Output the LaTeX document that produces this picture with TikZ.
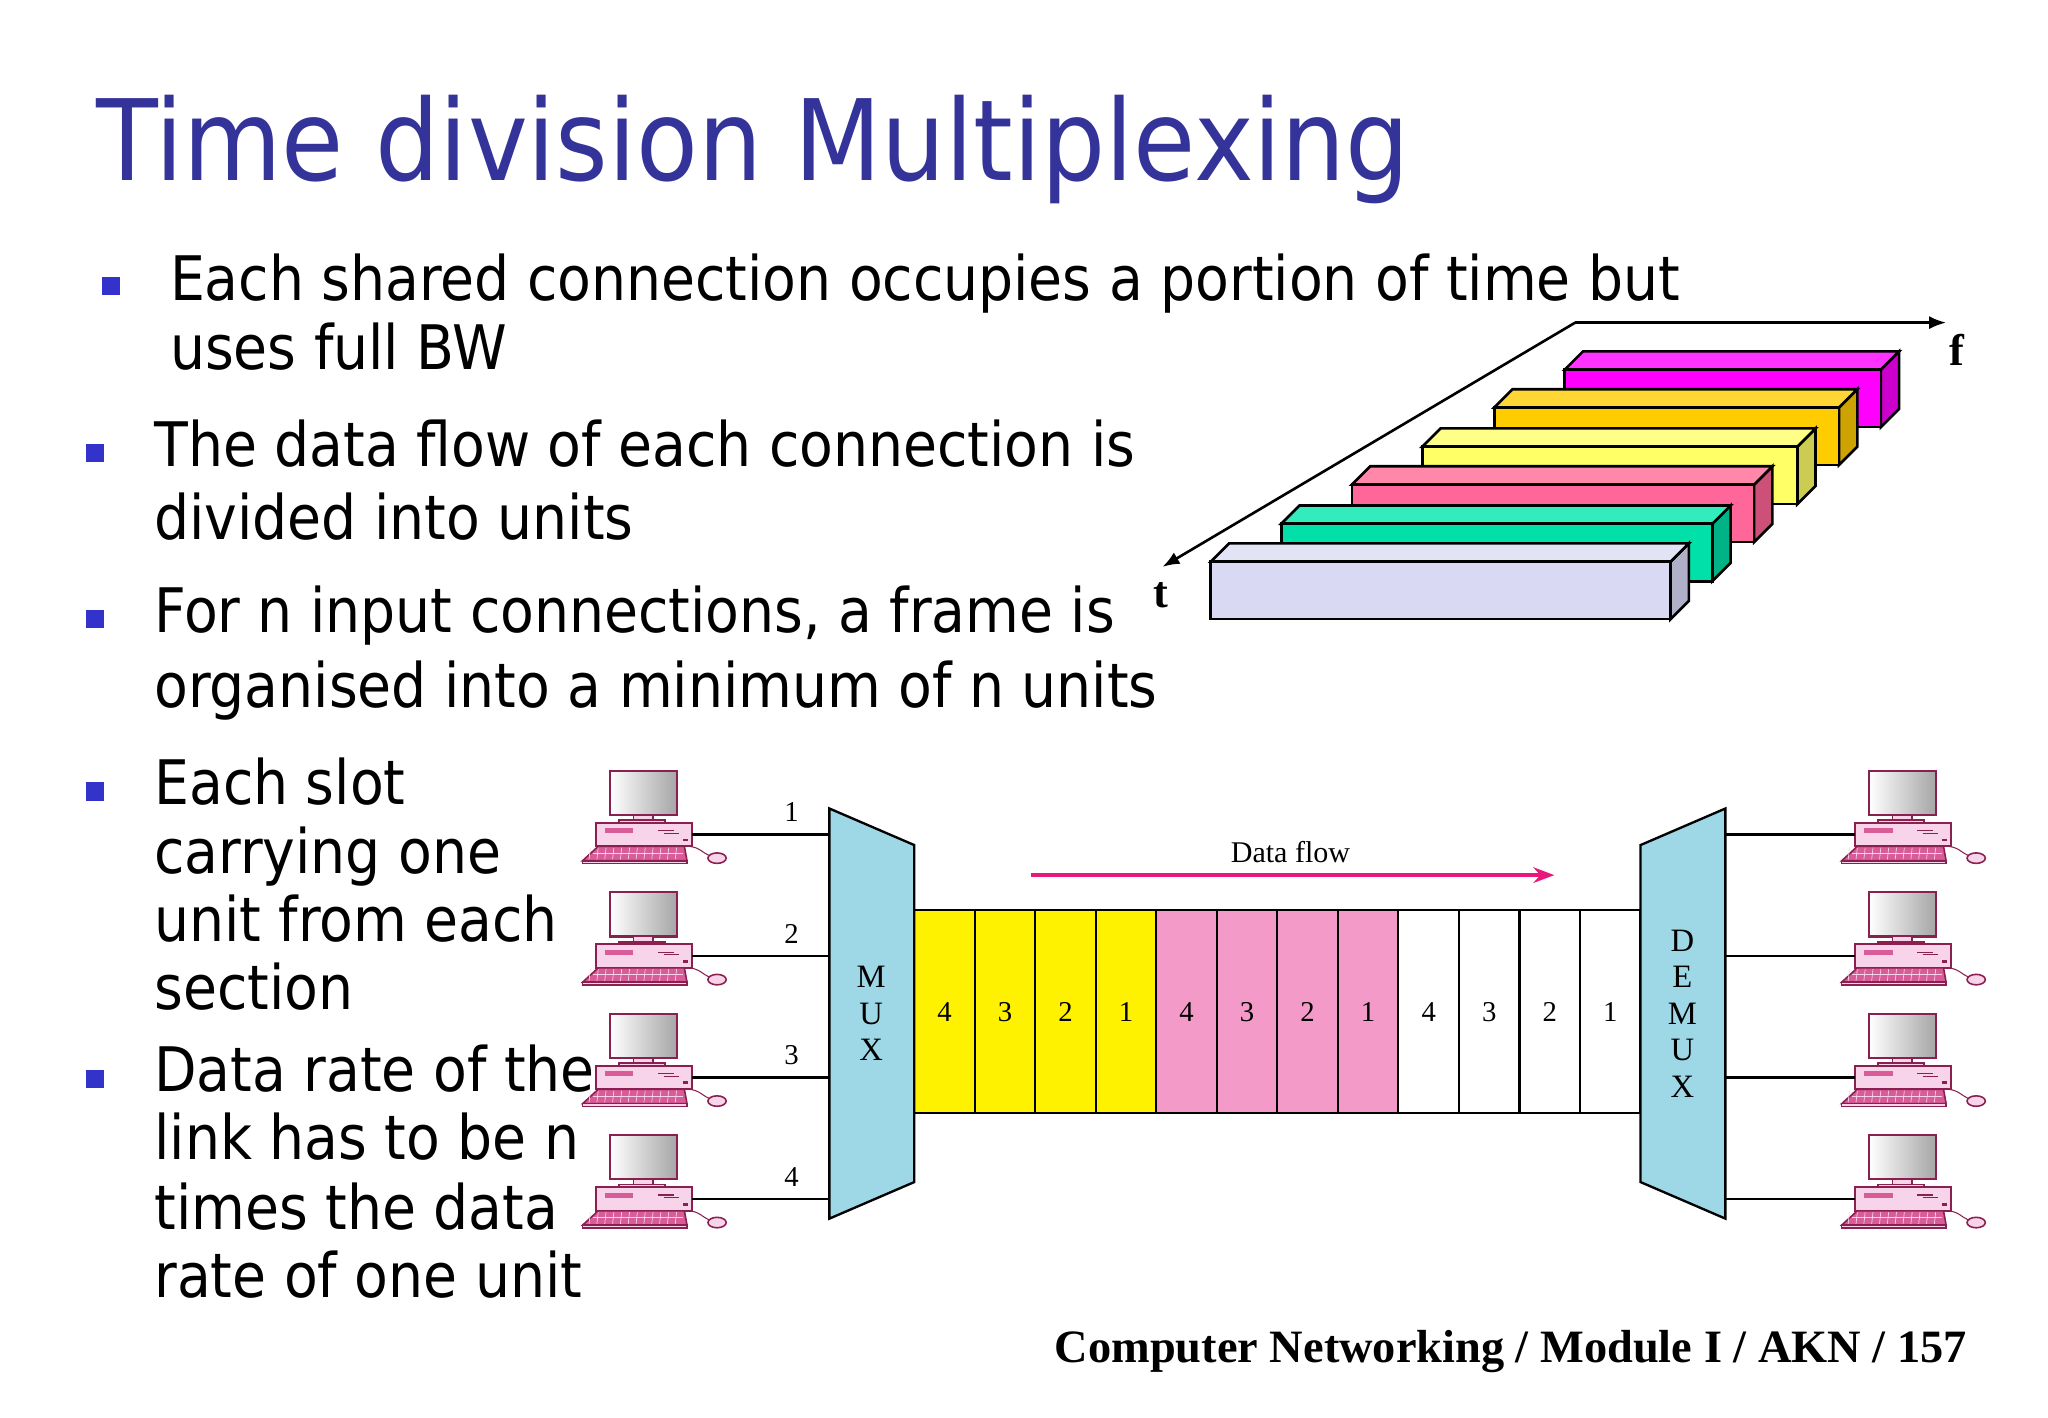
\documentclass[tikz,border=0pt]{standalone}
\usepackage{fontspec}
\setmainfont{DejaVu Sans Condensed}
\newfontfamily\serf{Liberation Serif}
\usetikzlibrary{arrows.meta}
\definecolor{ttl}{HTML}{333399}
\definecolor{bul}{HTML}{3333CC}
\definecolor{muxc}{HTML}{9ED8E6}
\definecolor{pinkc}{HTML}{F49AC8}
\definecolor{pcbox}{HTML}{F8D4EA}
\definecolor{pcline}{HTML}{8A2050}
\definecolor{pckey}{HTML}{D85C98}
\definecolor{flow}{HTML}{E8197A}
\tikzset{
  txt/.style={anchor=base west,inner sep=0pt,font=\fontsize{47}{47}\selectfont},
  bsq/.style={fill=bul,draw=none,minimum size=14pt,inner sep=0pt},
  cell/.style={draw,line width=1.6pt},
  sl/.style={font=\serf\fontsize{22}{22}\selectfont,inner sep=0pt},
  pics/comp/.style={code={
    \draw[pcline,line width=1.6pt,left color=white,right color=gray!70] (-63,-49) rectangle (-12,-15);
    \draw[pcline,line width=1.2pt,fill=pcbox] (-45,-15) rectangle (-30,-11);
    \draw[pcline,line width=1.2pt,fill=pcbox] (-56,-11) rectangle (-21,-9);
    \draw[pcline,line width=1.6pt,fill=pcbox] (-74,-9) rectangle (0,9);
    \fill[pckey] (-67,-5) rectangle (-45,-1);
    \draw[pcline,line width=1pt] (-26,-3)--(-14,-3) (-22,-1)--(-10,-1);
    \fill[pcline] (-7,3) rectangle (-3,5);
    \draw[pcline,line width=1.2pt,fill=pckey] (-72,9)--(-6,9)--(-4,20)--(-84,20)--cycle;
    \foreach \k in {-78,-72,...,-10} \draw[pcbox,line width=0.5pt] (\k,10)--(\k-1,19);
    \draw[pcbox,line width=0.5pt] (-76,14)--(-7,14);
    \draw[pcline,line width=1.2pt,fill=pcbox] (-84,20) rectangle (-4,22);
    \draw[pcline,line width=0.8pt] (-2,9) .. controls (6,10) and (8,14) .. (13,16);
    \draw[pcline,line width=1.2pt,fill=pcbox] (19,18) ellipse (7 and 4);
  }}
}
\begin{document}
\begin{tikzpicture}[x=1pt,y=-1pt]
\fill[white] (0,0) rectangle (1568,1085);
\useasboundingbox (0,0) rectangle (1568,1085);
% title
\node[txt,text=ttl,font=\fontsize{86}{86}\selectfont] (title) at (74,138) {Time division Multiplexing};
% bullets
\node[bsq] (b1) at (85,219) {};
\node[txt] (t1) at (130,230) {Each shared connection occupies a portion of time but};
\node[txt] (t1b) at (130,283) {uses full BW};
\node[bsq] (b2) at (73,347) {};
\node[txt] (t2) at (118,357) {The data flow of each connection is};
\node[txt] (t2b) at (118,413) {divided into units};
\node[bsq] (b3) at (73,474) {};
\node[txt] (t3) at (118,484) {For n input connections, a frame is};
\node[txt] (t3b) at (118,542) {organised into a minimum of n units};
\node[bsq] (b4) at (73,606) {};
\node[txt] (t4) at (118,616) {Each slot};
\node[txt] (t4b) at (118,669) {carrying one};
\node[txt] (t4c) at (118,721) {unit from each};
\node[txt] (t4d) at (118,773) {section};
\node[bsq] (b5) at (73,826) {};
\node[txt] (t5) at (118,836) {Data rate of the};
\node[txt] (t5b) at (118,888) {link has to be n};
\node[txt] (t5c) at (118,941) {times the data};
\node[txt] (t5d) at (118,993) {rate of one unit};
% 3D bars
\coordinate (o) at (1206,247);
\coordinate (fe) at (1490,247);
\coordinate (te) at (890,434);
\draw[line width=2pt,-{Latex[length=13pt,width=10pt]}] (o)--(fe);
\draw[line width=2pt,-{Latex[length=13pt,width=10pt]}] (o)--(te);
\node[font=\serf\bfseries\fontsize{34}{34}\selectfont] (f) at (1498,268) {f};
\node[font=\serf\bfseries\fontsize{34}{34}\selectfont] (t) at (889,456) {t};
\foreach \i/\xl/\xr/\yt/\cf/\ct/\cs in {
 5/1198/1440/283/FF00FF/FF33FF/CC00CC,
 4/1144/1408/312/FFCC00/FFD633/CCA300,
 3/1089/1376/342/FFFF66/FFFF88/CCCC52,
 2/1035/1343/371/FF6699/FF88AA/CC5077,
 1/981/1311/401/00E0A8/33ECBE/00B386,
 0/927/1279/430/D9D9F3/E3E3F6/B0B0C8}{
  \definecolor{cF}{HTML}{\cf}\definecolor{cT}{HTML}{\ct}\definecolor{cS}{HTML}{\cs}
  \draw[line width=2pt,fill=cS] (\xr,\yt)--(\xr+14,\yt-14)--(\xr+14,\yt+30)--(\xr,\yt+44)--cycle;
  \draw[line width=2pt,fill=cT] (\xl,\yt)--(\xl+14,\yt-14)--(\xr+14,\yt-14)--(\xr,\yt)--cycle;
  \draw[line width=2pt,fill=cF] (\xl,\yt) rectangle (\xr,\yt+44);
}
% frame cells
\foreach \j/\n in {0/4,1/3,2/2,3/1,4/4,5/3,6/2,7/1,8/4,9/3,10/2,11/1}{
  \pgfmathsetmacro\xa{700+\j*46.333}
  \pgfmathsetmacro\xb{700+(\j+1)*46.333}
  \ifnum\j<4 \def\cc{yellow}\else\ifnum\j<8 \def\cc{pinkc}\else\def\cc{white}\fi\fi
  \draw[cell,fill=\cc] (\xa,697) rectangle (\xb,852);
  \node[sl] (n\j) at ({(\xa+\xb)/2},775) {\n};
}
% mux / demux
\draw[line width=1.8pt,fill=muxc] (635,619)--(700,647)--(700,905)--(635,933)--cycle;
\coordinate (mux) at (667,776);
\draw[line width=1.8pt,fill=muxc] (1256,647)--(1321,619)--(1321,933)--(1256,905)--cycle;
\coordinate (demux) at (1288,776);
\node[sl,align=center,font=\serf\fontsize{25}{28}\selectfont] at (667,776) {M\\U\\X};
\node[sl,align=center,font=\serf\fontsize{25}{28}\selectfont] at (1288,776) {D\\E\\M\\U\\X};
% data flow
\coordinate (df1) at (789,670);
\coordinate (df2) at (1190,670);
\draw[flow,line width=2.5pt,-{Stealth[length=16pt,width=12pt]}] (df1)--(df2);
\node[sl,font=\serf\fontsize{23}{23}\selectfont] (dfl) at (988,652) {Data flow};
% computers & lines
\foreach \k/\y in {1/639,2/732,3/825,4/918}{
  \pic at (530,\y) {comp};
  \coordinate (L\k) at (530,\y);
  \coordinate (M\k) at (635,\y);
  \draw[line width=1.8pt] (L\k)--(M\k);
  \node[sl] (lab\k) at (606,\y-17) {\k};
  \pic at (1494,\y) {comp};
  \coordinate (R\k) at (1420,\y);
  \coordinate (D\k) at (1321,\y);
  \draw[line width=1.8pt] (D\k)--(R\k);
}
% footer
\node[anchor=base east,inner sep=0pt,font=\serf\bfseries\fontsize{35.5}{36}\selectfont] (foot) at (1506,1043) {Computer Networking / Module I / AKN / 157};
\end{tikzpicture}
\end{document}
